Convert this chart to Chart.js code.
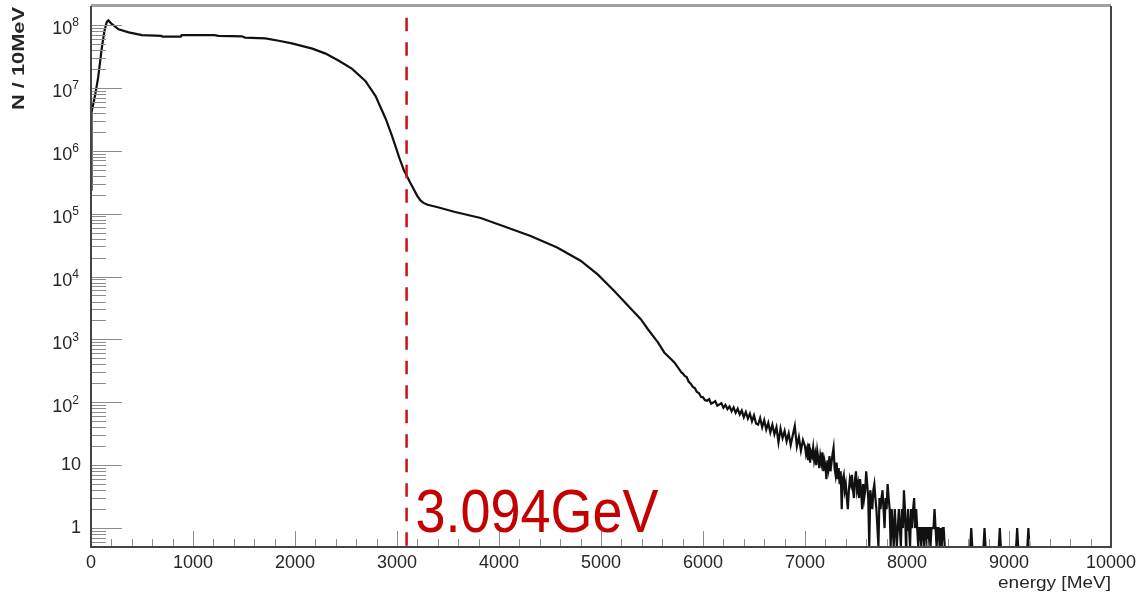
<!DOCTYPE html>
<html lang="en">
<head>
    <meta charset="UTF-8">
    <title>Energy spectrum</title>
    <script src="https://cdn.jsdelivr.net/npm/chart.js"></script>
    <style>
        body {
            margin: 0;
            background: #fff;
        }

        #spectrum {
            display: block;
        }
    </style>
</head>
<body>

<canvas id="spectrum" width="1140" height="596"></canvas>

<script>
    // Counts per 10 MeV bin, smooth part of the spectrum (energy in MeV)
    const bodyEnergy = [0, 5, 40, 70, 105, 130, 155, 170, 200, 270,
        370, 500, 690, 700, 880, 890, 1210, 1250, 1480, 1510,
        1710, 1840, 1970, 2170, 2300, 2430, 2560, 2690, 2790, 2890,
        2950, 2990, 3020, 3070, 3130, 3200, 3230, 3260, 3300, 3400,
        3560, 3820, 4080, 4310, 4570, 4800, 4970, 5130, 5300, 5390,
        5460, 5560, 5620, 5720, 5790];
    const bodyCounts = [2.4e5, 4.1e6, 7.6e6, 1.45e7, 4.2e7, 7.8e7, 1.12e8, 1.18e8, 1.05e8, 8.5e7,
        7.6e7, 6.9e7, 6.7e7, 6.5e7, 6.5e7, 6.9e7, 6.9e7, 6.7e7, 6.6e7, 6.3e7,
        6.1e7, 5.6e7, 5.1e7, 4.2e7, 3.5e7, 2.7e7, 2.0e7, 1.29e7, 7.4e6, 3.2e6,
        1.74e6, 1.12e6, 7.9e5, 4.8e5, 3.1e5, 1.9e5, 1.62e5, 1.48e5, 1.38e5, 1.26e5,
        1.07e5, 8.5e4, 6.0e4, 4.4e4, 2.9e4, 1.78e4, 1.07e4, 5.9e3, 3.0e3, 2.1e3,
        1.45e3, 890, 620, 430, 295];

    // tail 5800 - 6980 MeV, every second bin
    const midStart = 5800;
    const midStep = 20;
    const midCounts = [290, 262, 252, 212, 198, 176, 168, 146, 140, 122,
        120, 108, 106, 112, 95, 99, 104, 88, 92, 97,
        82, 91, 78, 86, 72, 83, 68, 79, 64, 74,
        58, 70, 55, 66, 50, 62, 46, 44, 56, 40,
        52, 37, 47, 33, 44, 31, 40, 23, 38, 27,
        35, 24, 32, 21, 30, 42, 20, 28, 17, 25];

    // tail 7000 - 8370 MeV, every bin
    const fineStart = 7000;
    const fineStep = 10;
    const fineCounts = [20, 15, 18, 12, 22, 11, 16, 14, 19, 12,
        15, 10, 17, 13, 9, 14, 11, 16, 8, 12,
        10, 6, 12, 9, 14, 8, 11, 15, 19, 9,
        7, 11, 6, 9, 5, 8, 2, 6, 7, 4,
        5, 3, 2, 4, 6, 5, 7, 4, 3, 6,
        8, 4, 5, 3, 6, 4, 2, 5, 3, 4,
        8, 5, 3, 0, 4, 3, 2, 4, 5, 3,
        2, 1, 0, 3, 2, 3, 4, 2, 1, 3,
        2, 5, 3, 2, 0, 2, 1, 0, 2, 1,
        0, 1, 2, 1, 0, 2, 1, 4, 2, 0,
        1, 2, 1, 0, 2, 1, 2, 3, 1, 2,
        1, 0, 1, 1, 0, 1, 1, 0, 1, 1,
        0, 1, 1, 0, 1, 1, 1, 2, 1, 0,
        1, 1, 0, 1, 0, 1, 1, 0];

    // single entries far out in the tail
    const strayEnergy = [8630, 8760, 8910, 9080, 9190];

    // axis ranges and ticks
    const X_MIN = 0, X_MAX = 10000;
    const Y_MIN = 0.5, Y_MAX = 2e8;
    const xTicks = [0, 1000, 2000, 3000, 4000, 5000, 6000, 7000, 8000, 9000, 10000];
    const xMinorStep = 200;
    const yTickExps = [0, 1, 2, 3, 4, 5, 6, 7, 8];

    // J/psi marker
    const markerE = 3094;
    const markerTop = 1.3e8;

    const points = [];
    bodyEnergy.forEach((e, i) => points.push({x: e, y: bodyCounts[i]}));
    midCounts.forEach((n, i) => points.push({x: midStart + i * midStep, y: n}));
    fineCounts.forEach((n, i) => points.push({x: fineStart + i * fineStep, y: n}));
    strayEnergy.forEach(e => {
        points.push({x: e - 10, y: 0}, {x: e, y: 1}, {x: e + 10, y: 0});
    });
    points.push({x: X_MAX, y: 0});
    // empty bins sit on the bottom of the frame, like ROOT does on a log axis
    points.forEach(p => { if (p.y <= 0) p.y = Y_MIN; });

    const FONT = '"Liberation Sans", Arial, Helvetica, sans-serif';

    // draw text squeezed/stretched horizontally to a given width
    function fitText(ctx, text, x, y, width, align) {
        const w = ctx.measureText(text).width;
        ctx.save();
        ctx.translate(x, y);
        ctx.scale(width / w, 1);
        ctx.textAlign = align;
        ctx.fillText(text, 0, 0);
        ctx.restore();
    }

    // ROOT style frame: ticks inside, labels outside
    const rootAxes = {
        id: 'rootAxes',
        afterDatasetsDraw(chart) {
            const {ctx, chartArea: a, scales: {x, y}} = chart;
            ctx.save();

            // tick marks
            ctx.strokeStyle = '#8c8c8c';
            ctx.lineWidth = 1;
            ctx.beginPath();
            for (let e = X_MIN; e <= X_MAX; e += xMinorStep) {
                const px = Math.round(x.getPixelForValue(e)) + 0.5;
                const len = e % 1000 === 0 ? 16 : 8;
                ctx.moveTo(px, a.bottom);
                ctx.lineTo(px, a.bottom - len);
            }
            for (let d = -1; d <= 8; d++) {
                for (let k = 1; k <= 9; k++) {
                    const v = k * Math.pow(10, d);
                    if (v < Y_MIN - 1e-9 || v > Y_MAX) continue;
                    const py = Math.round(y.getPixelForValue(v)) + 0.5;
                    const len = k === 1 ? 31 : 15;
                    ctx.moveTo(a.left, py);
                    ctx.lineTo(a.left + len, py);
                }
            }
            ctx.stroke();

            // frame
            ctx.strokeStyle = '#a0a0a0';
            ctx.lineWidth = 3;
            ctx.beginPath();
            ctx.moveTo(a.left, a.top - 0.5);
            ctx.lineTo(a.right, a.top - 0.5);
            ctx.stroke();
            ctx.strokeStyle = '#444';
            ctx.lineWidth = 2;
            ctx.beginPath();
            ctx.moveTo(a.left, a.top);
            ctx.lineTo(a.left, a.bottom);
            ctx.lineTo(a.right, a.bottom);
            ctx.lineTo(a.right, a.top);
            ctx.stroke();

            // x tick labels
            ctx.fillStyle = '#262626';
            ctx.font = '18px ' + FONT;
            ctx.textAlign = 'center';
            ctx.textBaseline = 'middle';
            xTicks.forEach(e => ctx.fillText(String(e), x.getPixelForValue(e), a.bottom + 16));

            // y tick labels, 10^n with a raised exponent
            ctx.textAlign = 'right';
            yTickExps.forEach(p => {
                const py = y.getPixelForValue(Math.pow(10, p));
                if (p === 0 || p === 1) {
                    ctx.font = '18px ' + FONT;
                    ctx.fillText(p === 0 ? '1' : '10', a.left - 10, py);
                } else {
                    ctx.font = '12px ' + FONT;
                    const sup = String(p);
                    const sw = ctx.measureText(sup).width;
                    ctx.fillText(sup, a.left - 12, py - 2);
                    ctx.font = '18px ' + FONT;
                    ctx.fillText('10', a.left - 12 - sw, py + 4.5);
                }
            });

            // axis titles
            ctx.textBaseline = 'alphabetic';
            ctx.font = '16px ' + FONT;
            fitText(ctx, 'energy [MeV]', a.right, 588, 113, 'right');

            ctx.save();
            ctx.translate(24, 7);
            ctx.rotate(-Math.PI / 2);
            ctx.font = 'bold 16px ' + FONT;
            fitText(ctx, 'N / 10MeV', 0, 0, 103, 'right');
            ctx.restore();

            // marker line with its energy in GeV
            const mx = x.getPixelForValue(markerE);
            ctx.strokeStyle = '#cc1111';
            ctx.lineWidth = 2.5;
            ctx.setLineDash([13.5, 11]);
            ctx.beginPath();
            ctx.moveTo(mx, y.getPixelForValue(markerTop));
            ctx.lineTo(mx, a.bottom);
            ctx.stroke();
            ctx.setLineDash([]);

            ctx.fillStyle = '#c40000';
            ctx.font = '62px ' + FONT;
            fitText(ctx, (markerE / 1000).toFixed(3) + 'GeV', mx + 9, y.getPixelForValue(1) + 4, 243, 'left');

            ctx.restore();
        }
    };

    const ctx = document.getElementById('spectrum').getContext('2d');
    const spectrumChart = new Chart(ctx, {
        type: 'line',
        data: {
            datasets: [{
                data: points,
                borderColor: '#111',
                borderWidth: 2.2,
                pointRadius: 0,
                tension: 0,
                fill: false
            }]
        },
        options: {
            responsive: false,
            animation: false,
            layout: {
                padding: {left: 91, right: 29, top: 6, bottom: 49}
            },
            plugins: {
                legend: {display: false},
                tooltip: {enabled: false}
            },
            scales: {
                x: {type: 'linear', min: X_MIN, max: X_MAX, display: false},
                y: {type: 'logarithmic', min: Y_MIN, max: Y_MAX, display: false}
            }
        },
        plugins: [rootAxes]
    });
</script>
</body>
</html>
